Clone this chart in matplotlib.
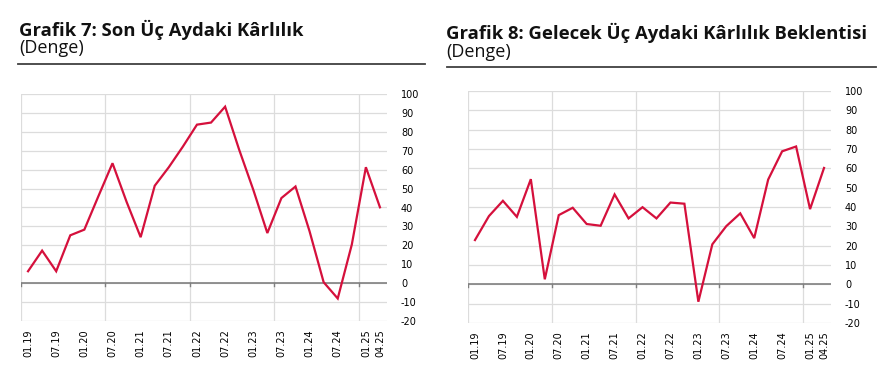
"""
Recreation of Grafik 7 / Grafik 8: profitability balance (last / next three months).
"""

import matplotlib
matplotlib.use("Agg")
import matplotlib.pyplot as plt
import numpy as np

# =========================================================================
#  Data  (quarterly, 01.19 .. 04.25)
# =========================================================================
cPeriods = ["01.19", "04.19", "07.19", "10.19", "01.20", "04.20", "07.20", "10.20",
            "01.21", "04.21", "07.21", "10.21", "01.22", "04.22", "07.22", "10.22",
            "01.23", "04.23", "07.23", "10.23", "01.24", "04.24", "07.24", "10.24",
            "01.25", "04.25"]

vLast3M = [6.3, 17.2, 6.3, 25.3, 28.3, 46.0, 63.4, 43.0, 24.3, 51.5, 61.3, 72.2,
           83.8, 84.9, 93.3, 70.5, 49.4, 26.5, 45.0, 51.1, 27.4, 0.5, -8.1, 20.4,
           61.3, 40.1]

vNext3M = [22.9, 35.3, 43.2, 34.9, 54.4, 2.6, 35.8, 39.6, 31.2, 30.3, 46.5, 34.1,
           39.9, 34.1, 42.3, 41.7, -9.0, 20.7, 30.1, 36.7, 23.9, 54.2, 68.8, 71.3,
           38.9, 60.2]

cTitles = ["Grafik 7: Son Üç Aydaki Kârlılık",
           "Grafik 8: Gelecek Üç Aydaki Kârlılık Beklentisi"]
sSubtitle = "(Denge)"

vLabelIdx = [0, 2, 4, 6, 8, 10, 12, 14, 16, 18, 20, 22, 24, 25]
vYTicks = np.arange(-20, 101, 10)

LINE_COLOR = "#d5103c"
GRID_COLOR = "#dcdcdc"

# =========================================================================
#  Figure
# =========================================================================
fig = plt.figure(figsize=(8.89, 3.75), dpi=100)
W, H = 889, 375

def px_axes(x0, y0, x1, y1):
    return fig.add_axes([x0 / W, 1 - y1 / H, (x1 - x0) / W, (y1 - y0) / H])

rPanels = [
    {"data": vLast3M, "box": (21, 94, 387, 321), "title": (19, 36), "sub": (19, 53),
     "rule": (18, 425, 64)},
    {"data": vNext3M, "box": (468, 91, 831, 323), "title": (446, 39), "sub": (446, 57),
     "rule": (447, 876, 67)},
]

x = np.arange(len(cPeriods))

for k, panel in enumerate(rPanels):
    ax = px_axes(*panel["box"])
    ax.plot(x, panel["data"], color=LINE_COLOR, lw=1.6, solid_joinstyle="miter")

    ax.set_xlim(-0.5, len(cPeriods) - 0.5)
    ax.set_ylim(-20, 100)

    # horizontal grid + vertical separators every 6 quarters
    for yv in vYTicks:
        ax.axhline(yv, color=GRID_COLOR, lw=0.9, zorder=0)
    for xv in np.arange(-0.5, len(cPeriods), 6):
        ax.axvline(xv, color=GRID_COLOR, lw=0.9, zorder=0)
    ax.axhline(0, color="#808080", lw=1.2, zorder=1)
    for xv in np.arange(-0.5, len(cPeriods), 6):
        ax.plot([xv, xv], [0, -1.3], color="#808080", lw=1.0, zorder=1)

    for s in ax.spines.values():
        s.set_visible(False)

    ax.yaxis.tick_right()
    ax.set_yticks(vYTicks)
    ax.set_yticklabels([str(v) for v in vYTicks])
    ax.tick_params(axis="y", length=0, pad=10, labelsize=7, colors="#000000")

    ax.set_xticks(vLabelIdx)
    ax.set_xticklabels([cPeriods[i] for i in vLabelIdx], rotation=90)
    ax.tick_params(axis="x", length=0, pad=6, labelsize=7, colors="#000000")

    # titles
    tx, ty = panel["title"]
    fig.text(tx / W, 1 - ty / H, cTitles[k], fontsize=13.3, fontweight="bold",
             family="Open Sans", va="baseline", ha="left", color="#111111")
    sx, sy = panel["sub"]
    fig.text(sx / W, 1 - sy / H, sSubtitle, fontsize=13, family="Open Sans",
             va="baseline", ha="left", color="#111111")
    r0, r1, ry = panel["rule"]
    fig.add_artist(plt.Line2D([r0 / W, r1 / W], [1 - ry / H, 1 - ry / H],
                              color="#404040", lw=1.3, transform=fig.transFigure))

fig.savefig("out.png", dpi=100)
